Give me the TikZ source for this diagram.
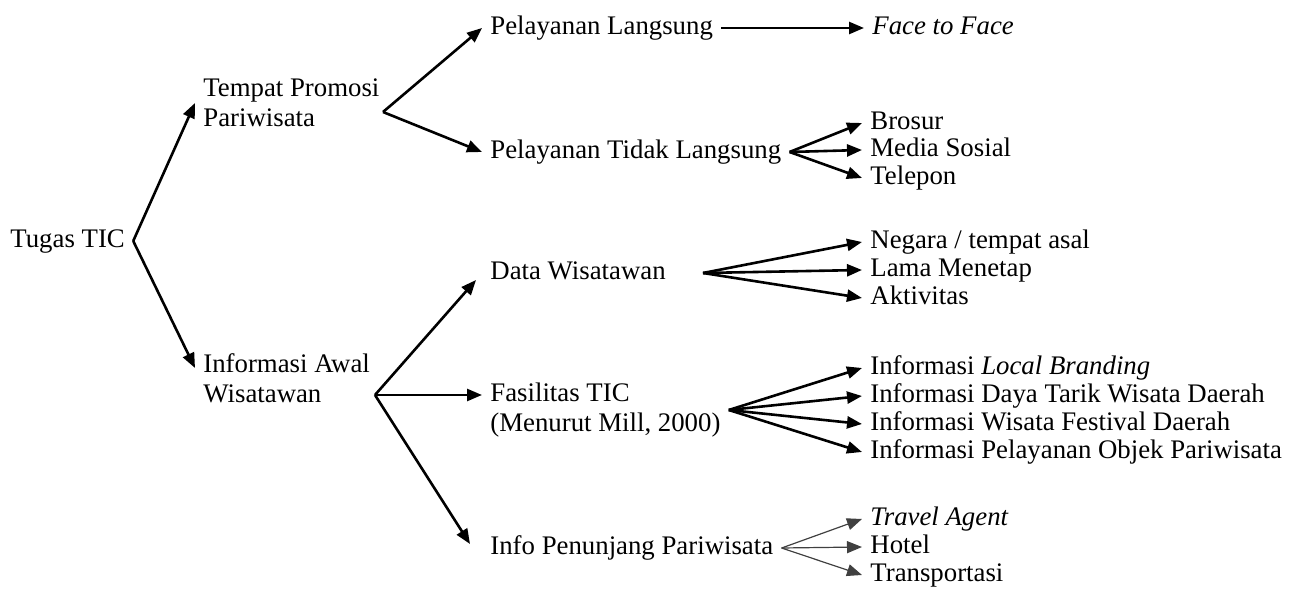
\documentclass[tikz,border=0pt]{standalone}
\usepackage{fontspec}
\setmainfont{Liberation Serif}
\usetikzlibrary{arrows.meta,calc}

\begin{document}
\begin{tikzpicture}[
    x=0.5pt, y=-0.5pt,
    block/.style={
      anchor=west, inner xsep=4pt, inner ysep=1pt, align=left,
      font=\fontsize{13.4}{15}\selectfont
    },
    item/.style={block, text height=9.5pt, text depth=3pt},
    arrow/.style={-{Triangle[length=7.5pt,width=6pt]}, line width=1.3pt},
    thinarrow/.style={-{Triangle[length=7.5pt,width=6pt]}, line width=0.6pt, draw=black!75}
  ]
    \useasboundingbox (0,0) rectangle (1298,592);

    % levels 1 and 2
    \node[item] (tugas) at (2,241) {Tugas TIC};
    \node[block] (tempat) at (195,103) {Tempat Promosi\\Pariwisata};
    \node[block] (awal) at (195,378) {Informasi Awal\\Wisatawan};

    % level 3
    \node[item] (langsung) at (482,28) {Pelayanan Langsung};
    \node[item] (tidak) at (482,152) {Pelayanan Tidak Langsung};
    \node[item] (data) at (482,273) {Data Wisatawan};
    \node[block] (fasilitas) at (482,410) {Fasilitas TIC\\(Menurut Mill, 2000)};
    \node[item] (penunjang) at (482,548) {Info Penunjang Pariwisata};

    % level 4
    \node[item] (face) at (864,28) {\textit{Face to Face}};
    \node[item] (brosur) at (862,123) {Brosur};
    \node[item] (medsos) at (862,150) {Media Sosial};
    \node[item] (telepon) at (862,178) {Telepon};
    \node[item] (negara) at (862,242) {Negara / tempat asal};
    \node[item] (lama) at (862,270) {Lama Menetap};
    \node[item] (aktivitas) at (862,298) {Aktivitas};
    \node[item] (branding) at (862,368) {Informasi \textit{Local Branding}};
    \node[item] (daya) at (862,396) {Informasi Daya Tarik Wisata Daerah};
    \node[item] (festival) at (862,424) {Informasi Wisata Festival Daerah};
    \node[item] (objek) at (862,452) {Informasi Pelayanan Objek Pariwisata};
    \node[item] (travel) at (862,519) {\textit{Travel Agent}};
    \node[item] (hotel) at (862,547) {Hotel};
    \node[item] (transport) at (862,575) {Transportasi};

    % branch points
    \coordinate (tempatR) at (383,112);
    \coordinate (awalR) at (375,395);
    \coordinate (dataR) at (703,273);

    \draw[arrow] (tugas.east) -- (tempat.west);
    \draw[arrow] (tugas.east) -- ($(awal.west)+(0,-10)$);

    \draw[arrow] (tempatR) -- (langsung.west);
    \draw[arrow] (tempatR) -- (tidak.west);
    \draw[arrow] (langsung.east) -- (face.west);
    \draw[arrow] (tidak.east) -- (brosur.west);
    \draw[arrow] (tidak.east) -- (medsos.west);
    \draw[arrow] (tidak.east) -- (telepon.west);

    \draw[arrow] (awalR) -- ($(data.west)+(-6,7)$);
    \draw[arrow] (awalR) -- ($(fasilitas.west)+(0,-15)$);
    \draw[arrow] (awalR) -- ($(penunjang.west)+(-12,-4)$);

    \draw[arrow] (dataR) -- (negara.west);
    \draw[arrow] (dataR) -- (lama.west);
    \draw[arrow] (dataR) -- (aktivitas.west);

    \draw[arrow] (fasilitas.east) -- (branding.west);
    \draw[arrow] (fasilitas.east) -- (daya.west);
    \draw[arrow] (fasilitas.east) -- (festival.west);
    \draw[arrow] (fasilitas.east) -- (objek.west);

    \draw[thinarrow] (penunjang.east) -- (travel.west);
    \draw[thinarrow] (penunjang.east) -- (hotel.west);
    \draw[thinarrow] (penunjang.east) -- (transport.west);
\end{tikzpicture}
\end{document}
